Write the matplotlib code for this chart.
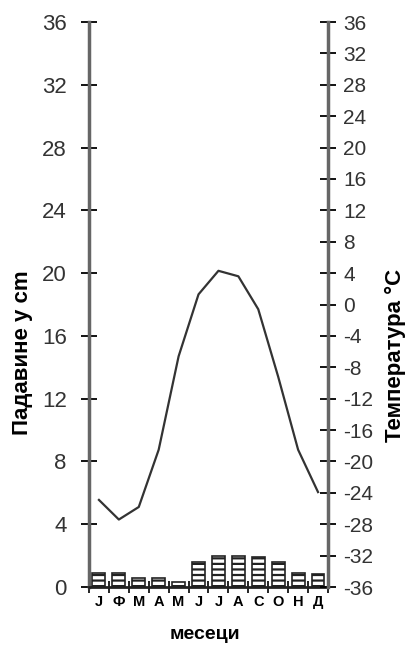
import matplotlib
matplotlib.use("Agg")
import matplotlib.pyplot as plt
import numpy as np

plt.rcParams['font.family'] = ['Liberation Sans', 'DejaVu Sans']
plt.rcParams['hatch.linewidth'] = 1.6
plt.rcParams['axes.unicode_minus'] = False

# data
months = ['Ј', 'Ф', 'М', 'А', 'М', 'Ј', 'Ј', 'А', 'С', 'О', 'Н', 'Д']
precip = [0.9, 0.9, 0.55, 0.55, 0.3, 1.6, 2.0, 2.0, 1.9, 1.6, 0.9, 0.85]
temp = [-24.9, -27.4, -25.8, -18.5, -6.6, 1.3, 4.3, 3.6, -0.6, -9.2, -18.5, -23.9]
left_ticks = list(range(0, 37, 4))
right_ticks = list(range(-36, 37, 4))

fig = plt.figure(figsize=(4.11, 6.49), dpi=100)
ax = fig.add_axes([0.2165, 0.0955, 0.5815, 0.8705])
x = np.arange(len(months))

ax.bar(x, precip, width=0.65, color='white', edgecolor='#222222',
       hatch='---', linewidth=1.2, zorder=2)
ax.set_xlim(-0.5, 11.5)
ax.set_ylim(0, 36)
ax.set_yticks(left_ticks)
ax.set_xticks(x)
ax.set_xticklabels(months, fontsize=10.5, fontweight='bold')
ax.set_xticks(np.arange(-0.5, 12, 1), minor=True)
ax.tick_params(axis='x', which='major', length=0, pad=6)
ax.tick_params(axis='x', which='minor', length=8, direction='inout', width=1.2)
ax.tick_params(axis='y', length=12, direction='inout', width=1.3,
               labelsize=16, colors='black', labelcolor='#333333', pad=10)

for s in ['top', 'right']:
    ax.spines[s].set_visible(False)
ax.spines['left'].set_color('#666666')
ax.spines['left'].set_linewidth(2.5)
ax.spines['bottom'].set_color('#222222')
ax.spines['bottom'].set_linewidth(2)

ax2 = ax.twinx()
ax2.plot(x, temp, color='#333333', linewidth=1.6)
ax2.set_ylim(-36, 36)
ax2.set_yticks(right_ticks)
ax2.tick_params(axis='y', length=12, direction='inout', width=1.3,
                labelsize=15, labelcolor='#333333', pad=5)
for s in ['top', 'left', 'bottom']:
    ax2.spines[s].set_visible(False)
ax2.spines['right'].set_color('#666666')
ax2.spines['right'].set_linewidth(2.5)

fig.text(0.054, 0.456, 'Падавине у cm', rotation=90, ha='center', va='center',
         fontsize=16, fontweight='bold')
fig.text(0.963, 0.453, 'Температура °C', rotation=90, ha='center', va='center',
         fontsize=16, fontweight='bold')
fig.text(0.499, 0.022, 'месеци', ha='center', va='center',
         fontsize=14, fontweight='bold')

fig.savefig('out.png', dpi=100)
